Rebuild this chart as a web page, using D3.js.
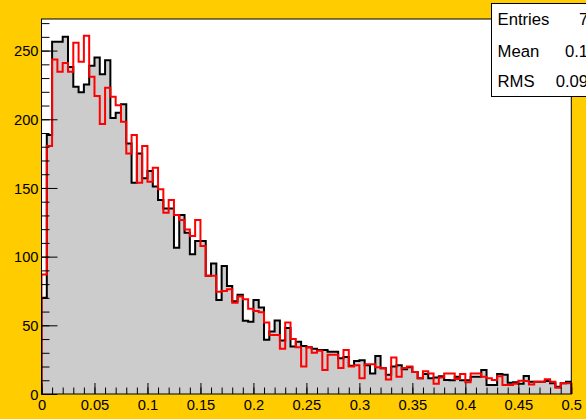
<!DOCTYPE html>
<html>
<head>
<meta charset="utf-8">
<script src="https://cdn.jsdelivr.net/npm/d3@7"></script>
<style>
  html, body { margin: 0; padding: 0; background: #ffcc00; }
  svg { display: block; }
  text { font-family: "Liberation Sans", Arial, Helvetica, sans-serif; }
</style>
</head>
<body>
<svg id="chart" width="586" height="419"></svg>
<script>
// ---- data ----
const binLow = 0, binHigh = 0.5, nBins = 100;
const blackCounts = [
  70, 188.5, 256.4, 256.4, 260, 238, 223.7, 219.6, 225.4, 239,
  245, 232.7, 243, 201, 204.7, 211, 182.4, 153.8, 175, 157,
  162.3, 151, 141.2, 135, 135, 106.5, 130.3, 117.4, 101.7, 111.4,
  111.4, 86, 95, 68.4, 93.2, 78.6, 67.5, 72.3, 53.4, 52.6,
  68.5, 63, 39.5, 45.5, 53.5, 39, 48, 34.5, 38, 35,
  34, 33, 32, 32, 30.8, 30.8, 26, 27, 20.5, 24,
  24.5, 21, 15, 27.7, 18.7, 14, 20, 21, 18, 19.5,
  16, 11.4, 14.5, 11.4, 12, 13, 10.2, 10, 12.6, 10,
  10, 12.6, 12.6, 17.5, 6.6, 6.6, 14.6, 14, 8.2, 8.5,
  7.5, 13.1, 9, 9, 9, 9.5, 7.8, 5.3, 7.8, 9
];
const redCounts = [
  87, 180.5, 243.6, 234.6, 241, 234.6, 255.7, 241.9, 260.8, 231,
  217, 196.5, 223, 216.4, 210.3, 198.2, 175, 188.5, 153.8, 180.5,
  154.5, 164.7, 149, 132, 141.2, 130.3, 126.6, 119.8, 115, 126.6,
  107.7, 86, 86, 74.5, 75, 76.2, 66.5, 71, 69, 62,
  60.5, 59.5, 52, 43, 43, 33, 52, 40, 34, 20,
  34, 30, 31.5, 17.5, 28.5, 28.5, 19, 32, 20, 21,
  11.5, 21.6, 21.6, 19.4, 18.7, 10.5, 26.5, 12.5, 19, 20,
  16, 11.4, 16.5, 15, 7.5, 12, 15, 15, 11, 14.6,
  8.5, 15, 15, 12.5, 11.4, 10.2, 13, 6.6, 6.6, 7.5,
  9.7, 9.5, 7, 9, 9, 10.7, 9, 4.6, 7.8, 7.8
];
const xTicks = [0, 0.05, 0.1, 0.15, 0.2, 0.25, 0.3, 0.35, 0.4, 0.45, 0.5];
const xTickLabels = ["0", "0.05", "0.1", "0.15", "0.2", "0.25", "0.3", "0.35", "0.4", "0.45", "0.5"];
const yTicks = [0, 50, 100, 150, 200, 250];
const yTickLabels = ["0", "50", "100", "150", "200", "250"];
const statNames = ["Entries", "Mean", "RMS"];
const statValues = ["7384", "0.1066", "0.09021"];

// ---- layout ----
const W = 586, H = 419;
const frame = { left: 41.5, right: 571.3, top: 19, bottom: 394 };
const yMax = 273;

const svg = d3.select("#chart");
svg.append("rect").attr("x", 0).attr("y", 0).attr("width", W).attr("height", H).attr("fill", "#ffcc00");

const x = d3.scaleLinear().domain([binLow, binHigh]).range([frame.left, frame.right]);
const y = d3.scaleLinear().domain([0, yMax]).range([frame.bottom, frame.top]);

// frame background
svg.append("rect")
  .attr("x", frame.left).attr("y", frame.top)
  .attr("width", frame.right - frame.left).attr("height", frame.bottom - frame.top)
  .attr("fill", "#ffffff");

const bw = (binHigh - binLow) / nBins;
function stepPoints(counts) {
  const pts = counts.map((v, i) => [binLow + i * bw, v]);
  pts.push([binHigh, counts[counts.length - 1]]);
  return pts;
}

const clip = svg.append("clipPath").attr("id", "fclip").append("rect")
  .attr("x", frame.left).attr("y", frame.top)
  .attr("width", frame.right - frame.left).attr("height", frame.bottom - frame.top);

const g = svg.append("g").attr("clip-path", "url(#fclip)");

// black histogram: gray fill + black outline
const area = d3.area().x(d => x(d[0])).y0(y(0)).y1(d => y(d[1])).curve(d3.curveStepAfter);
const bPts = stepPoints(blackCounts);
g.append("path").attr("d", area(bPts)).attr("fill", "#cccccc").attr("stroke", "none");

function outline(counts) {
  const pts = [[binLow, 0]].concat(stepPoints(counts)).concat([[binHigh, 0]]);
  // vertical edges at ends
  const line = d3.line().x(d => x(d[0])).y(d => y(d[1])).curve(d3.curveStepAfter);
  const inner = stepPoints(counts);
  const p = d3.path();
  p.moveTo(x(binLow), y(0));
  p.lineTo(x(binLow), y(inner[0][1]));
  return "M" + x(binLow) + "," + y(0) + "L" + line(inner).slice(1) + "L" + x(binHigh) + "," + y(0);
}
g.append("path").attr("d", outline(blackCounts)).attr("fill", "none")
  .attr("stroke", "#000000").attr("stroke-width", 2).attr("stroke-linejoin", "miter");
g.append("path").attr("d", outline(redCounts)).attr("fill", "none")
  .attr("stroke", "#ff0000").attr("stroke-width", 2).attr("stroke-linejoin", "miter");

// axes
const fontSize = 14.7;
const yMinor = d3.range(0, yMax + 0.1, 10);
const yMinorAxis = d3.axisLeft(y).tickValues(yMinor).tickSize(-8).tickFormat("");
const yMajorAxis = d3.axisLeft(y).tickValues(yTicks).tickSize(-16).tickPadding(3)
  .tickFormat((d, i) => yTickLabels[i]);
const gy1 = svg.append("g").attr("transform", `translate(${frame.left},0)`).call(yMinorAxis);
const gy2 = svg.append("g").attr("transform", `translate(${frame.left},0)`).call(yMajorAxis);

const xMinor = d3.range(0, 51).map(i => i * 0.01);
const xMinorAxis = d3.axisBottom(x).tickValues(xMinor).tickSize(-6.5).tickFormat("");
const xMajorAxis = d3.axisBottom(x).tickValues(xTicks).tickSize(-11).tickPadding(5.5)
  .tickFormat((d, i) => xTickLabels[i]);
const gx1 = svg.append("g").attr("transform", `translate(0,${frame.bottom})`).call(xMinorAxis);
const gx2 = svg.append("g").attr("transform", `translate(0,${frame.bottom})`).call(xMajorAxis);

[gy1, gy2, gx1, gx2].forEach(a => {
  a.select(".domain").remove();
  a.selectAll(".tick line").attr("stroke", "#000").attr("stroke-width", 1);
  a.selectAll("text").attr("font-size", fontSize).attr("fill", "#000")
    .attr("font-family", "'Liberation Sans', Arial, sans-serif");
});
gy2.selectAll(".tick text").attr("dy", "0.36em");

// frame border
svg.append("rect")
  .attr("x", frame.left).attr("y", frame.top)
  .attr("width", frame.right - frame.left).attr("height", frame.bottom - frame.top)
  .attr("fill", "none").attr("stroke", "#000").attr("stroke-width", 1);

// stats box
const box = { x: 491.5, y: 3.5, w: 140, h: 93 };
svg.append("rect").attr("x", box.x).attr("y", box.y).attr("width", box.w).attr("height", box.h)
  .attr("fill", "#ffffff").attr("stroke", "#000").attr("stroke-width", 1);
const statFont = 16.7;
const lineBase = [25.3, 56.5, 87.3];
statNames.forEach((n, i) => {
  svg.append("text").attr("x", 497.5).attr("y", lineBase[i]).attr("font-size", statFont)
    .attr("fill", "#000").text(n);
  svg.append("text").attr("x", 616).attr("y", lineBase[i]).attr("font-size", statFont)
    .attr("text-anchor", "end").attr("fill", "#000").text(statValues[i]);
});
</script>
</body>
</html>
